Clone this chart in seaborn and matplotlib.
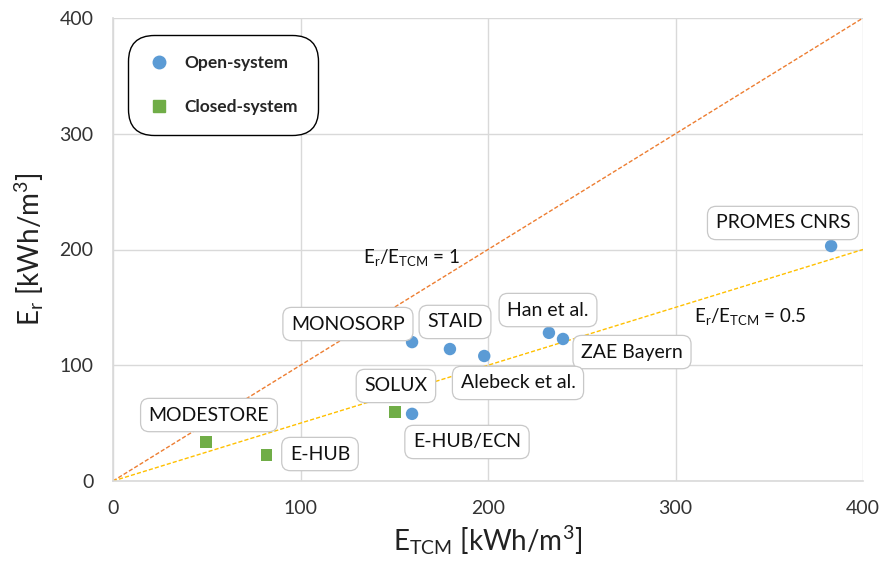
import matplotlib
matplotlib.use("Agg")
import matplotlib.pyplot as plt
import seaborn as sns
import pandas as pd
from matplotlib.lines import Line2D

# ---- data ----
names = ["PROMES CNRS", "Han et al.", "ZAE Bayern", "MONOSORP", "STAID",
         "Alebeck et al.", "E-HUB/ECN", "SOLUX", "MODESTORE", "E-HUB"]
e_tcm = [383, 232.5, 240, 159.5, 179.7, 198, 159.5, 150.4, 49.6, 82]
e_r = [203, 128, 122.7, 120, 114, 108, 58, 59.6, 33.7, 22.5]
system = ["Open-system"] * 7 + ["Closed-system"] * 3
label_x = [357.3, 232, 276.8, 125.3, 182.4, 216, 188.8, 150.9, 51.2, 110.4]
label_y = [222.9, 147.7, 111.4, 135.6, 137.4, 84.7, 33.7, 82.1, 57, 23.3]
ratio_lines = [1.0, 0.5]
ratio_text = ["1", "0.5"]
ratio_text_xy = [(159, 193.5), (340, 141.7)]
xticks = [0, 100, 200, 300, 400]
yticks = [0, 100, 200, 300, 400]

df = pd.DataFrame({"name": names, "E_TCM": e_tcm, "E_r": e_r, "system": system})

sns.set_theme(style="white")
plt.rcParams["font.family"] = ["Lato", "DejaVu Sans"]
plt.rcParams["mathtext.fontset"] = "custom"
plt.rcParams["mathtext.rm"] = "Lato"

fig = plt.figure(figsize=(8.86, 5.79), dpi=100)
ax = fig.add_axes([113/886, 1-481/579, 750/886, 463/579])

# ratio lines
line_colors = ["#ED7D31", "#FFC000"]
for r, c in zip(ratio_lines, line_colors):
    sns.lineplot(x=[0, 400], y=[0, 400*r], ax=ax, color=c, linestyle=(0, (3, 1.5)),
                 linewidth=1.0, zorder=2)

palette = {"Open-system": "#5B9BD5", "Closed-system": "#70AD47"}
markers = {"Open-system": "o", "Closed-system": "s"}
for sysname in ["Open-system", "Closed-system"]:
    sub = df[df.system == sysname]
    sns.scatterplot(data=sub, x="E_TCM", y="E_r", ax=ax, color=palette[sysname],
                    marker=markers[sysname], s=80 if sysname == "Open-system" else 65,
                    edgecolor="none", linewidth=0, zorder=4, legend=False)

# labels
for n, lx, ly in zip(names, label_x, label_y):
    ax.text(lx, ly, n, fontsize=14, ha="center", va="center", zorder=5, color="#111111",
            bbox=dict(boxstyle="round,pad=0.42,rounding_size=0.45", fc="white",
                      ec="#C8C8C8", lw=0.9))

for t, (tx, ty) in zip(ratio_text, ratio_text_xy):
    ax.text(tx, ty, r"$\mathregular{E_r/E_{TCM}}$ = " + t, fontsize=13.5,
            ha="center", va="center", color="#111111", zorder=5)

ax.set_xlim(0, 400)
ax.set_ylim(0, 400)
ax.set_xticks(xticks)
ax.set_yticks(yticks)
ax.tick_params(axis="both", labelsize=14, colors="#333333")
ax.tick_params(axis="y", length=8, width=1, color="#D9D9D9", direction="out", pad=6)
ax.tick_params(axis="x", length=0, pad=14)
ax.grid(True, color="#D9D9D9", linewidth=1)
ax.set_axisbelow(True)
for s in ["top", "right"]:
    ax.spines[s].set_visible(False)
for s in ["left", "bottom"]:
    ax.spines[s].set_color("#D9D9D9")
    ax.spines[s].set_linewidth(1.2)

ax.set_xlabel(r"$\mathregular{E_{TCM}}$ [kWh/m$\mathregular{^3}$]", fontsize=20,
              color="#222222", labelpad=4)
ax.set_ylabel(r"$\mathregular{E_r}$ [kWh/m$\mathregular{^3}$]", fontsize=20,
              color="#222222", labelpad=10)

handles = [Line2D([], [], marker="o", color="#5B9BD5", linestyle="none", markersize=9),
           Line2D([], [], marker="s", color="#70AD47", linestyle="none", markersize=8)]
leg = ax.legend(handles, ["Open-system", "Closed-system"], loc="upper left",
                bbox_to_anchor=(0.025, 0.955), frameon=True, fancybox=True,
                prop={"weight": "bold", "size": 12.5}, labelspacing=1.6,
                borderpad=0.95, handlelength=1.2, handletextpad=0.9,
                borderaxespad=0, framealpha=1)
frame = leg.get_frame()
frame.set_edgecolor("black")
frame.set_linewidth(1.0)
frame.set_boxstyle("round,pad=0.2,rounding_size=1.5")
leg.set_zorder(6)

fig.savefig("out.png", dpi=100)
